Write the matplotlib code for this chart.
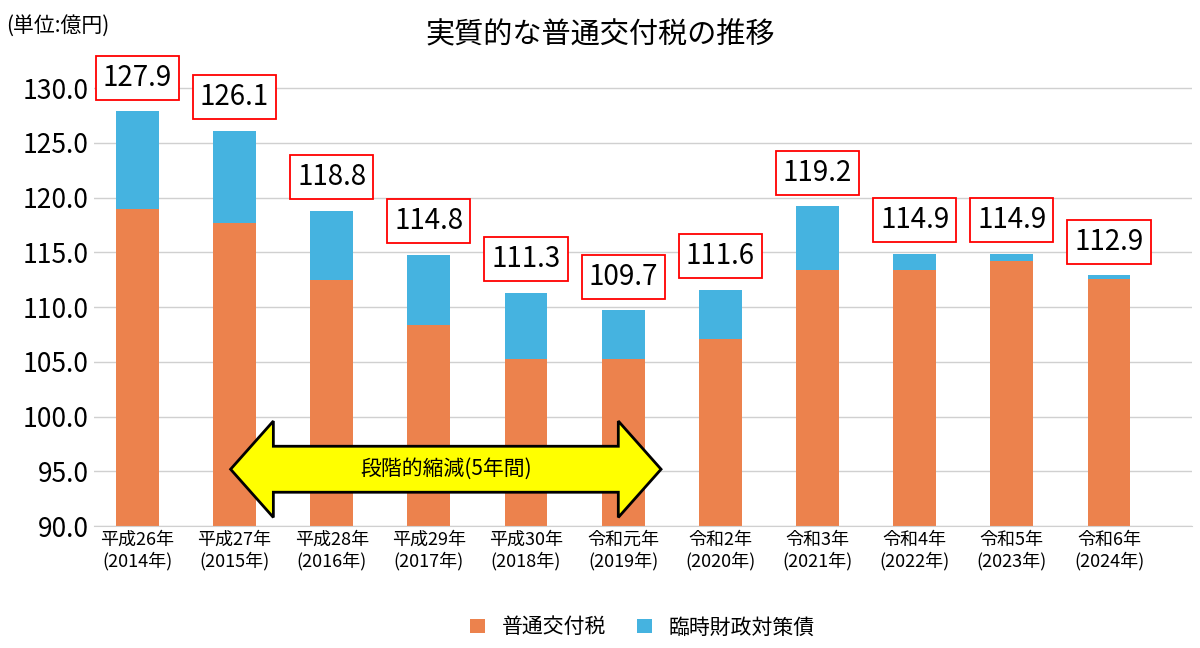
import matplotlib
matplotlib.use("Agg")
import matplotlib.pyplot as plt
from matplotlib.patches import Polygon

plt.rcParams['font.family'] = ['Noto Sans CJK JP', 'DejaVu Sans']

years = ['平成26年\n(2014年)', '平成27年\n(2015年)', '平成28年\n(2016年)', '平成29年\n(2017年)',
         '平成30年\n(2018年)', '令和元年\n(2019年)', '令和2年\n(2020年)', '令和3年\n(2021年)',
         '令和4年\n(2022年)', '令和5年\n(2023年)', '令和6年\n(2024年)']
futsu = [119.0, 117.7, 112.5, 108.4, 105.3, 105.3, 107.1, 113.4, 113.4, 114.2, 112.6]
totals = [127.9, 126.1, 118.8, 114.8, 111.3, 109.7, 111.6, 119.2, 114.9, 114.9, 112.9]
rinji = [t - f for t, f in zip(totals, futsu)]

fig = plt.figure(figsize=(12, 6.48), dpi=100)
ax = fig.add_axes([0.078, 0.188, 0.915, 0.735])
x = range(len(years))
ax.bar(x, [f - 90 for f in futsu], bottom=90, width=0.44, color='#EC824D', label='普通交付税')
ax.bar(x, rinji, bottom=futsu, width=0.44, color='#45B3E0', label='臨時財政対策債')

ax.set_ylim(90, 133.5)
ax.set_xlim(-0.45, 10.85)
ax.set_yticks([90 + 5 * i for i in range(9)])
ax.set_yticklabels(['%.1f' % (90 + 5 * i) for i in range(9)], fontsize=19)
ax.set_xticks(list(x))
ax.set_xticklabels(years, fontsize=13, linespacing=1.2)
ax.tick_params(length=0)
ax.grid(axis='y', color='#d0d0d0', lw=1)
ax.set_axisbelow(True)
for s in ['top', 'right', 'left']:
    ax.spines[s].set_visible(False)
ax.spines['bottom'].set_color('#d0d0d0')

for i, t in enumerate(totals):
    ax.text(i, t + 1.7, '%.1f' % t, ha='center', va='bottom', fontsize=20,
            bbox=dict(boxstyle='square,pad=0.25', fc='white', ec='red', lw=1.3))

# double arrow
x0, x1, hl = 0.96, 5.39, 0.44
yc, sh, hh = 95.2, 2.1, 4.4
pts = [(x0, yc), (x0 + hl, yc + hh), (x0 + hl, yc + sh), (x1 - hl, yc + sh), (x1 - hl, yc + hh),
       (x1, yc), (x1 - hl, yc - hh), (x1 - hl, yc - sh), (x0 + hl, yc - sh), (x0 + hl, yc - hh)]
ax.add_patch(Polygon(pts, closed=True, fc='#FFFF00', ec='black', lw=2, zorder=5))
ax.text((x0 + x1) / 2, yc, '段階的縮減(5年間)', ha='center', va='center', fontsize=15, zorder=6)

fig.text(0.5, 0.945, '実質的な普通交付税の推移', ha='center', va='center', fontsize=21)
fig.text(0.005, 0.96, '(単位:億円)', ha='left', va='center', fontsize=15)
ax.legend(loc='upper center', bbox_to_anchor=(0.5, -0.15), ncol=2, frameon=False,
          fontsize=15, handlelength=0.7, handleheight=0.7, columnspacing=1.5)

fig.savefig('out.png')
